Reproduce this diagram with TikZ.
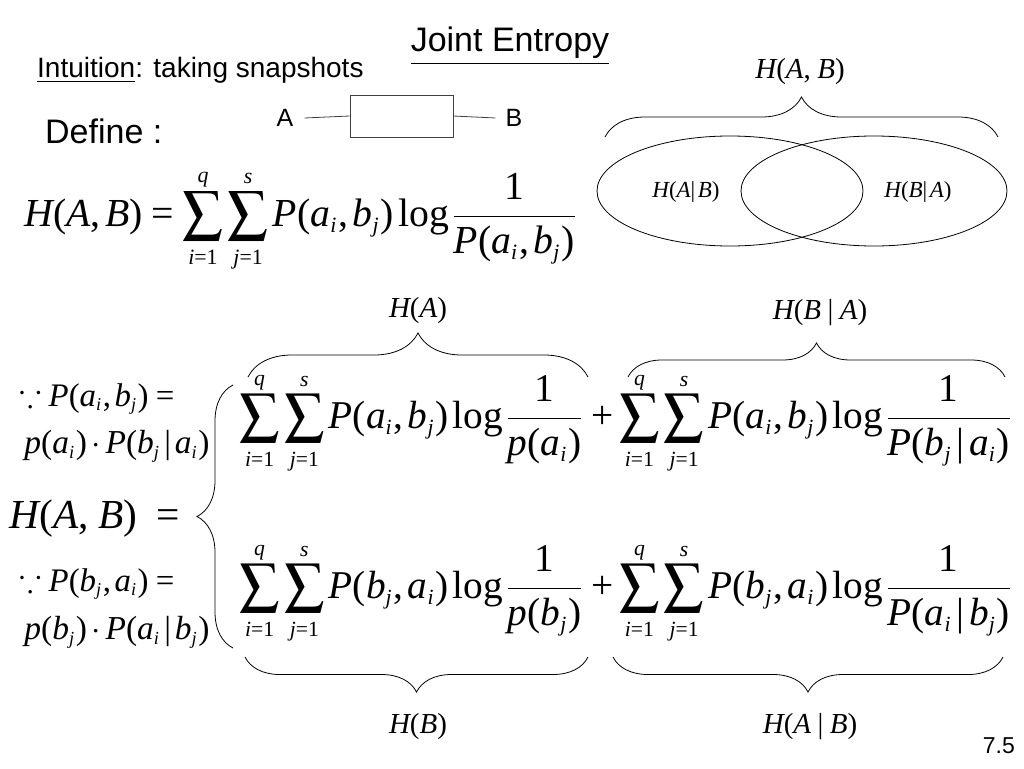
\documentclass[tikz,border=0pt]{standalone}
\usepackage{amsmath,amssymb}
\usepackage{mathptmx}
\usepackage[no-math]{fontspec}
\setmainfont{Liberation Serif}
\setsansfont{Liberation Sans}
\usepackage[italic]{mathastext}
\usepackage{graphicx}
\DeclareMathSizes{10}{10}{5.5}{4.5}
\usetikzlibrary{shapes.geometric,decorations.pathreplacing}
\newcommand\dsum{\sum_{i=1}^{q}\sum_{j=1}^{s}}
\newcommand\mylogx{\log\!}
\newcommand\fitw[2]{\resizebox{#1pt}{!}{$\displaystyle #2$}}
\newcommand\fs[1]{\fontsize{#1}{#1}\selectfont}
\begin{document}
\begin{tikzpicture}[x=1pt,y=-1pt,
  sans/.style={font=\sffamily, inner sep=0pt},
  mth/.style={inner sep=0pt},
  brc/.style={decorate, decoration={brace, amplitude=#1}, line width=0.8pt},
  venn/.style={draw, ellipse, line width=0.8pt, minimum width=266pt, minimum height=110pt, inner sep=0pt},
]
\useasboundingbox (0,0) rectangle (1024,768);
\fill[white] (0,0) rectangle (1024,768);

% titles
\node[sans, font=\sffamily\fs{34}] (title) at (510,46) {\underline{Joint Entropy}};
\node[sans, font=\sffamily\fs{28}, anchor=west] (intu) at (37,70) {\underline{Intuition}: taking snapshots};
\node[sans, font=\sffamily\fs{34}, anchor=west] (define) at (45,131) {Define :};

% A -- box -- B
\node[sans, font=\sffamily\fs{25}] (A) at (285,118) {A};
\node[draw=black!75, line width=0.8pt, minimum width=103pt, minimum height=42pt, inner sep=0pt] (box) at (401.5,116) {};
\node[sans, font=\sffamily\fs{25}] (B) at (514,118) {B};
\draw[black!75, line width=0.8pt] ([xshift=11pt]A.east) -- (box.west);
\draw[black!75, line width=0.8pt] (box.east) -- ([xshift=-10pt]B.west);

% main definition
\node[mth] (def) at (302,221) {\fitw{555}{H(A,B)=\dsum P(a_i,b_j)\mylogx\frac{1}{P(a_i,b_j)}}};

% Venn diagram
\node[mth] (habtop) at (800,72) {\fs{29}$H(A,\,B)$};
\coordinate (tb1) at (605,137);
\coordinate (tb2) at (998,137);
\draw[brc=40pt] (tb1) -- (tb2);
\node[venn] (ea) at (730,191) {};
\node[venn] (eb) at (874,191) {};
\node[mth] (hab1) at (686,192) {\fs{23}$H(A|\,B)$};
\node[mth] (hba1) at (918,192) {\fs{23}$H(B|\,A)$};

% upper labels
\node[mth] (ha) at (418,311) {\fs{29}$H(A)$};
\coordinate (ub1) at (248,377);
\coordinate (ub2) at (588,377);
\draw[brc=44pt] (ub1) -- (ub2);
\node[mth] (hba) at (820,313) {\fs{29}$H(B\mid A)$};
\coordinate (ub3) at (628,377);
\coordinate (ub4) at (1005,377);
\draw[brc=34pt] (ub3) -- (ub4);

% rows
\node[mth] (r1) at (627,423) {\fitw{775}{\dsum P(a_i,b_j)\mylogx\frac{1}{p(a_i)}+\dsum P(a_i,b_j)\mylogx\frac{1}{P(b_j\,|\,a_i)}}};
\node[mth] (r2) at (627,593) {\fitw{775}{\dsum P(b_j,a_i)\mylogx\frac{1}{p(b_j)}+\dsum P(b_j,a_i)\mylogx\frac{1}{P(a_i\,|\,b_j)}}};

% left side
\node[mth] (c1) at (97,399) {\fitw{155}{\because P(a_i,b_j)=}};
\node[mth] (c2) at (117,446) {\fitw{185}{p(a_i)\cdot P(b_j\,|\,a_i)}};
\node[mth] (hab) at (95,519) {\fitw{170}{H(A,\,B)\ =}};
\node[mth] (c3) at (97,584) {\fitw{155}{\because P(b_j,a_i)=}};
\node[mth] (c4) at (117,632) {\fitw{185}{p(b_j)\cdot P(a_i\,|\,b_j)}};
\coordinate (lb1) at (233,648);
\coordinate (lb2) at (233,385);
\draw[brc=36pt] (lb1) -- (lb2);

% lower labels
\coordinate (bb1) at (588,657);
\coordinate (bb2) at (245,657);
\draw[brc=35pt] (bb1) -- (bb2);
\node[mth] (hb) at (418,727) {\fs{29}$H(B)$};
\coordinate (bb3) at (1003,657);
\coordinate (bb4) at (613,657);
\draw[brc=35pt] (bb3) -- (bb4);
\node[mth] (hab3) at (810,727) {\fs{29}$H(A\mid B)$};

\node[sans, font=\sffamily\fs{23}, anchor=east] (pg) at (1015,746) {7.5};
\end{tikzpicture}
\end{document}
